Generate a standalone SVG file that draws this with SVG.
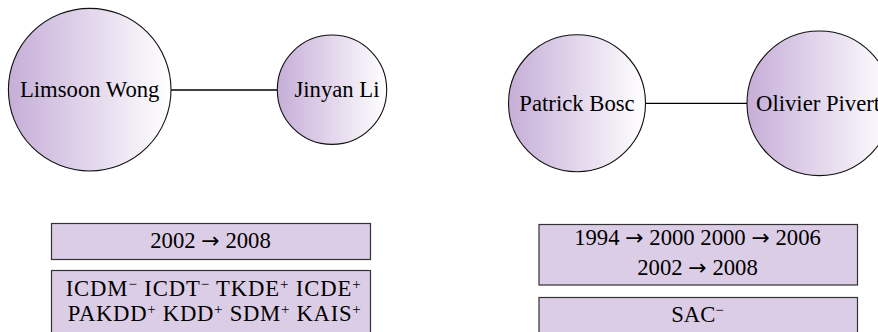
<svg xmlns="http://www.w3.org/2000/svg" width="878" height="332" viewBox="0 0 878 332">
<defs>
<linearGradient id="g" x1="0" y1="0" x2="1" y2="0">
<stop offset="0" stop-color="#c6aed8"/>
<stop offset="1" stop-color="#ffffff"/>
</linearGradient>
<style>
.n{fill:url(#g);stroke:#111;stroke-width:1.1}
.b{fill:#dccde6;stroke:#333;stroke-width:1.2}
.e{stroke:#000;stroke-width:1.3;fill:none}
text{font-family:"Liberation Serif","Times New Roman",serif;font-size:22.7px;fill:#000}
.c{text-anchor:middle}
.s{font-size:15px}
.a{font-family:"DejaVu Sans",sans-serif;font-size:22px}
</style>
</defs>
<rect width="878" height="332" fill="#fff"/>
<g id="connectors">
<line class="e" x1="171" y1="90" x2="277" y2="90"/>
<line class="e" x1="645" y1="103.3" x2="747" y2="103.3"/>
</g>
<g id="limsoon-wong">
<circle class="n" cx="89.7" cy="89.7" r="81.3"/>
<text class="c" x="89.7" y="97">Limsoon Wong</text>
</g>
<g id="jinyan-li">
<circle class="n" cx="332" cy="89.7" r="54.7"/>
<text class="c" x="337" y="97">Jinyan Li</text>
</g>
<g id="patrick-bosc">
<circle class="n" cx="577" cy="103.2" r="68.5"/>
<text class="c" x="577" y="110.5">Patrick Bosc</text>
</g>
<g id="olivier-pivert">
<circle class="n" cx="819.3" cy="103.3" r="72.3"/>
<text x="756" y="110.5">Olivier Pivert</text>
</g>
<g id="box-left-years">
<rect class="b" x="51.5" y="223.5" width="319" height="36"/>
<text class="c" x="210.5" y="248.3">2002 <tspan class="a">→</tspan> 2008</text>
</g>
<g id="box-left-venues">
<rect class="b" x="51.5" y="270.5" width="319" height="80"/>
<text x="65.7" textLength="295" lengthAdjust="spacing"><tspan y="295.7">ICDM</tspan><tspan class="s" dy="-7">−</tspan><tspan dy="7"> ICDT</tspan><tspan class="s" dy="-7">−</tspan><tspan dy="7"> TKDE</tspan><tspan class="s" dy="-7">+</tspan><tspan dy="7"> ICDE</tspan><tspan class="s" dy="-7">+</tspan></text>
<text x="67.7" textLength="293" lengthAdjust="spacing"><tspan y="321">PAKDD</tspan><tspan class="s" dy="-7">+</tspan><tspan dy="7"> KDD</tspan><tspan class="s" dy="-7">+</tspan><tspan dy="7"> SDM</tspan><tspan class="s" dy="-7">+</tspan><tspan dy="7"> KAIS</tspan><tspan class="s" dy="-7">+</tspan></text>
</g>
<g id="box-right-years">
<rect class="b" x="539" y="224.5" width="318.5" height="60.5"/>
<text class="c" x="697.5" y="245">1994 <tspan class="a">→</tspan> 2000 2000 <tspan class="a">→</tspan> 2006</text>
<text class="c" x="697.5" y="275">2002 <tspan class="a">→</tspan> 2008</text>
</g>
<g id="box-right-venues">
<rect class="b" x="539" y="297.5" width="318.5" height="60"/>
<text class="c" x="697.5"><tspan y="321.7">SAC</tspan><tspan class="s" dy="-7">−</tspan></text>
</g>
</svg>
